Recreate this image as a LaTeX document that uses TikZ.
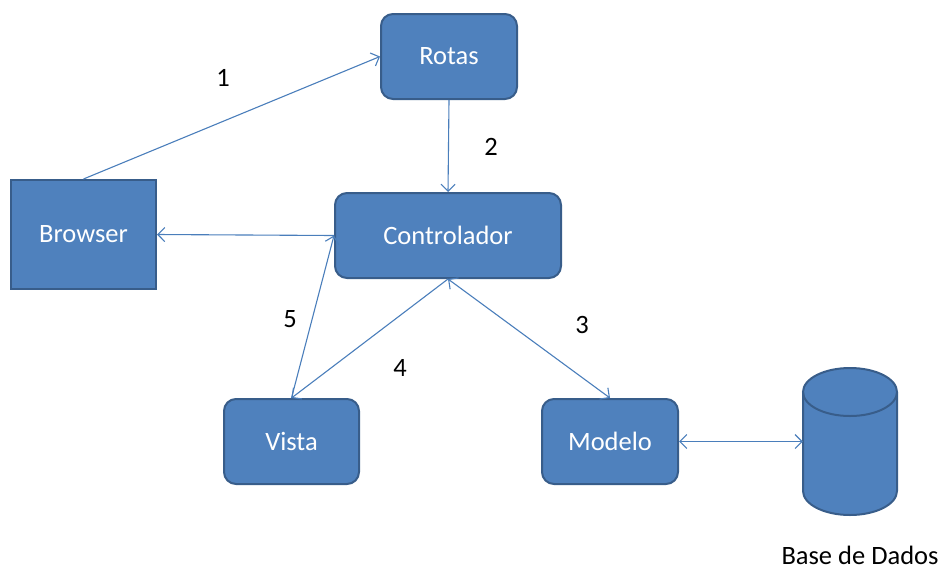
\documentclass[tikz,border=0pt]{standalone}
\usepackage{fontspec}
\setmainfont{Carlito}
\usetikzlibrary{arrows.meta}
\definecolor{boxfill}{HTML}{4F81BD}
\definecolor{boxline}{HTML}{385D8A}
\definecolor{wire}{HTML}{4A7EBB}
\tikzset{
  block/.style={draw=boxline, fill=boxfill, line width=2pt, text=white,
    font=\fontsize{26.5}{30}\selectfont, minimum width=#1, minimum height=85pt,
    inner sep=0pt},
  roundblock/.style={block=#1, rounded corners=12pt},
  wirestyle/.style={draw=wire, line width=1.1pt,
    >={Straight Barb[length=7pt,width=14pt,line width=1.1pt]}},
  tag/.style={font=\fontsize{26.5}{30}\selectfont, text=black, inner sep=0pt}
}
\begin{document}
\begin{tikzpicture}[x=1pt, y=-1pt]
\useasboundingbox (0,0) rectangle (941,571);

% main components
\node[roundblock=136pt] (rotas) at (449,56.5) {Rotas};
\node[roundblock=226pt] (ctrl) at (448,235.5) {Controlador};
\node[block=145pt, minimum height=109pt] (browser) at (83.5,234.5) {Browser};
\node[roundblock=135pt] (vista) at (291.5,441.5) {Vista};
\node[roundblock=136pt] (modelo) at (610,441.5) {Modelo};

% database cylinder
\fill[boxfill] (803,392) -- (803,491)
  arc[start angle=180, end angle=0, x radius=47, y radius=24] -- (897,392)
  arc[start angle=0, end angle=-180, x radius=47, y radius=24] -- cycle;
\draw[boxline, line width=2pt] (803,392) -- (803,491)
  arc[start angle=180, end angle=0, x radius=47, y radius=24] -- (897,392);
\draw[boxline, line width=2pt] (850,392) ellipse[x radius=47, y radius=24];
\node[minimum width=94pt, minimum height=147pt, inner sep=0pt] (db) at (850,441.5) {};
\node[tag] (dblabel) at (860,555) {Base de Dados};

% connectors
\draw[wirestyle, ->] (browser.north) -- (rotas.west);
\draw[wirestyle, ->] (rotas.south) -- (ctrl.north);
\draw[wirestyle, ->] (ctrl.west) -- (browser.east);
\draw[wirestyle, ->] (vista.north) -- (ctrl.west);
\draw[wirestyle, ->] (ctrl.south) -- (vista.north);
\draw[wirestyle, <->] (ctrl.south) -- (modelo.north);
\draw[wirestyle, <->] (modelo.east) -- (db.west);

% step numbers
\node[tag] (n1) at (223,78) {1};
\node[tag] (n2) at (491,147) {2};
\node[tag] (n3) at (582,325) {3};
\node[tag] (n4) at (400,368) {4};
\node[tag] (n5) at (290,319) {5};
\end{tikzpicture}
\end{document}
